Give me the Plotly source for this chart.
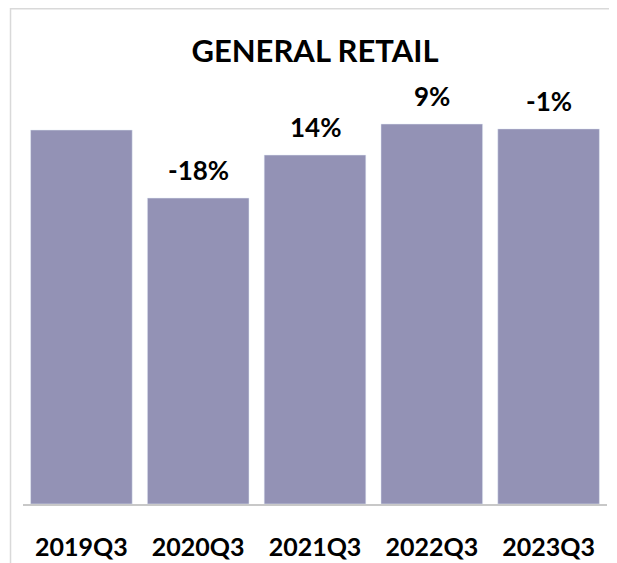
import plotly.graph_objects as go

# Q3 sales index (2019Q3 = 100) and year-on-year change labels
quarters = ['2019Q3', '2020Q3', '2021Q3', '2022Q3', '2023Q3']
index_values = [100, 81.8, 93.3, 101.6, 100.3]
change_labels = ['', '-18%', '14%', '9%', '-1%']

# page has an 8px body margin, so the figure is drawn 8px smaller
W, H = 609, 555
L, R, T, B = 14.5, 9.5, 92, 59
pw = W - L - R
ph = H - T - B

fig = go.Figure(go.Bar(
    x=quarters, y=index_values,
    marker_color='#9392B5',
))

# change labels sit a little above each bar
for q, v, lab in zip(quarters, index_values, change_labels):
    if lab:
        fig.add_annotation(x=q, y=v, text='<b>' + lab + '</b>', showarrow=False,
                           yanchor='bottom', yshift=10,
                           font=dict(family='Lato', size=26, color='black'))

# light grey frame around the whole chart
fig.add_shape(type='rect', xref='paper', yref='paper',
              x0=(2 - L) / pw, x1=(606 - L) / pw,
              y0=-0.3, y1=(H - B - 0.75) / ph,
              line=dict(color='#d9d9d9', width=1.5), fillcolor='rgba(0,0,0,0)')

fig.update_layout(
    width=W, height=H,
    margin=dict(l=L, r=R, t=T, b=B),
    plot_bgcolor='white', paper_bgcolor='white',
    bargap=0.13,
    showlegend=False,
    title=dict(text='<b>GENERAL RETAIL</b>', x=0.5, xref='paper', xanchor='center',
               y=1 - 43 / H, yanchor='middle',
               font=dict(family='Lato', size=31, color='black')),
    xaxis=dict(showline=True, linecolor='#c8c8c8', linewidth=1.5, automargin=False,
               ticks='outside', ticklen=20, tickcolor='white',
               tickfont=dict(family='Lato', size=25, color='black', weight='bold')),
    yaxis=dict(range=[0, 100 * ph / 374], visible=False, showgrid=False),
)

fig.write_html('out.html')
